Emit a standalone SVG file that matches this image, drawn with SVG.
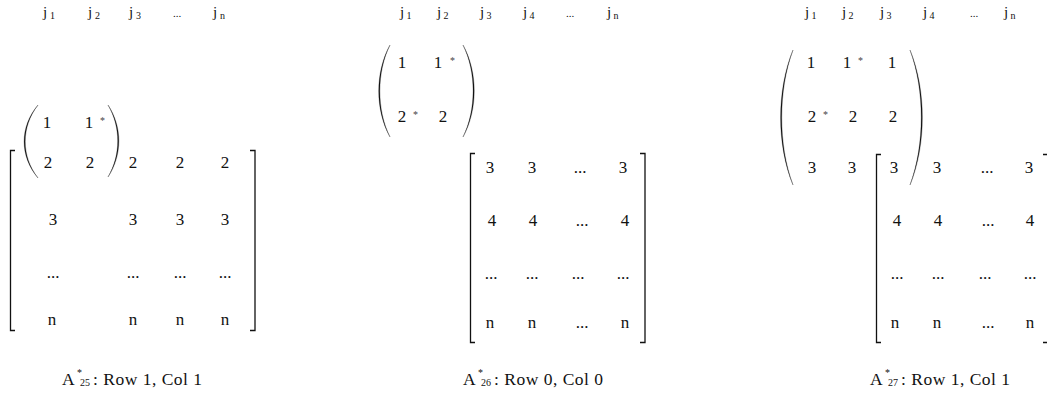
<svg xmlns="http://www.w3.org/2000/svg" width="1047" height="394" viewBox="0 0 1047 394" font-family="'Liberation Serif', Tinos, 'Times New Roman', Times, 'DejaVu Serif', serif">
<style>
text{font-family:'Liberation Serif',Tinos,'Times New Roman',Times,'DejaVu Serif',serif;fill:#111}
.e{font-size:17px;text-anchor:middle}
.h{font-size:15px}
.s{font-size:10px}
.st{font-size:10px;text-anchor:middle;fill:#444}
.hd{font-size:11px}
.c{font-size:17.5px;letter-spacing:0.5px}
.br{fill:none;stroke:#111;stroke-width:1.3}
.pa{fill:#111;stroke:#111;stroke-width:0.3}
</style>
<rect width="1047" height="394" fill="#fff"/>

<g id="panel1">
  <g id="p1-header">
    <text class="h" x="43" y="17">j</text><text class="s" x="50" y="19">1</text>
    <text class="h" x="88" y="17">j</text><text class="s" x="95" y="19">2</text>
    <text class="h" x="129" y="17">j</text><text class="s" x="136" y="19">3</text>
    <text class="hd" x="173" y="17">...</text>
    <text class="h" x="213" y="17">j</text><text class="s" x="220" y="19">n</text>
  </g>
  <g id="p1-sub">
    <path class="pa" d="M38,105 C19.5,127 19.5,156 38,178 C21,156 21,127 38,105 Z"/>
    <path class="pa" d="M108,105 C122.5,127 122.5,155 108,177 C121,155 121,127 108,105 Z"/>
    <text class="e" x="47" y="128">1</text>
    <text class="e" x="89" y="128">1</text>
    <text class="st" x="102.5" y="124">*</text>
  </g>
  <g id="p1-main">
    <path class="br" d="M15,150.5 H10.5 V330.5 H15"/>
    <path class="br" d="M250,150.5 H255 V330.5 H250"/>
    <text class="e" x="48" y="168">2</text><text class="e" x="90" y="168">2</text><text class="e" x="133" y="168">2</text><text class="e" x="180" y="168">2</text><text class="e" x="225" y="168">2</text>
    <text class="e" x="53" y="225">3</text><text class="e" x="133" y="225">3</text><text class="e" x="180" y="225">3</text><text class="e" x="225" y="225">3</text>
    <text class="e" x="53" y="278">...</text><text class="e" x="133" y="278">...</text><text class="e" x="180" y="278">...</text><text class="e" x="225" y="278">...</text>
    <text class="e" x="52" y="325">n</text><text class="e" x="133" y="325">n</text><text class="e" x="180" y="325">n</text><text class="e" x="225" y="325">n</text>
  </g>
  <g id="p1-caption">
    <text class="c" x="62" y="385">A</text><text class="s" x="77" y="376">*</text><text class="s" x="80" y="386">25</text><text class="c" x="93" y="385">: Row 1, Col 1</text>
  </g>
</g>

<g id="panel2">
  <g id="p2-header">
    <text class="h" x="400" y="17">j</text><text class="s" x="406.5" y="19">1</text>
    <text class="h" x="437" y="17">j</text><text class="s" x="443.5" y="19">2</text>
    <text class="h" x="480" y="17">j</text><text class="s" x="486.5" y="19">3</text>
    <text class="h" x="523" y="17">j</text><text class="s" x="529.5" y="19">4</text>
    <text class="hd" x="566" y="17">...</text>
    <text class="h" x="607" y="17">j</text><text class="s" x="613.5" y="19">n</text>
  </g>
  <g id="p2-sub">
    <path class="pa" d="M390,45 C375,72 375,110 390,137 C376.5,110 376.5,72 390,45 Z"/>
    <path class="pa" d="M463,45 C478,72 478,110 463,137 C476.5,110 476.5,72 463,45 Z"/>
    <text class="e" x="402" y="68">1</text><text class="e" x="438" y="68">1</text><text class="st" x="452.5" y="64">*</text>
    <text class="e" x="402" y="122">2</text><text class="st" x="415.5" y="118">*</text><text class="e" x="443" y="122">2</text>
  </g>
  <g id="p2-main">
    <path class="br" d="M475,153.5 H470.5 V342.5 H475"/>
    <path class="br" d="M640,153.5 H645 V342.5 H640"/>
    <text class="e" x="490" y="173">3</text><text class="e" x="532" y="173">3</text><text class="e" x="580" y="173">...</text><text class="e" x="623" y="173">3</text>
    <text class="e" x="492" y="226">4</text><text class="e" x="533" y="226">4</text><text class="e" x="582" y="226">...</text><text class="e" x="625" y="226">4</text>
    <text class="e" x="491" y="279">...</text><text class="e" x="532" y="279">...</text><text class="e" x="578" y="279">...</text><text class="e" x="623" y="279">...</text>
    <text class="e" x="490" y="328">n</text><text class="e" x="532" y="328">n</text><text class="e" x="582" y="328">...</text><text class="e" x="625" y="328">n</text>
  </g>
  <g id="p2-caption">
    <text class="c" x="463" y="385">A</text><text class="s" x="478" y="376">*</text><text class="s" x="481" y="386">26</text><text class="c" x="494" y="385">: Row 0, Col 0</text>
  </g>
</g>

<g id="panel3">
  <g id="p3-header">
    <text class="h" x="805" y="17">j</text><text class="s" x="811.5" y="19">1</text>
    <text class="h" x="842" y="17">j</text><text class="s" x="848.5" y="19">2</text>
    <text class="h" x="880" y="17">j</text><text class="s" x="886.5" y="19">3</text>
    <text class="h" x="923" y="17">j</text><text class="s" x="929.5" y="19">4</text>
    <text class="hd" x="970" y="17">...</text>
    <text class="h" x="1004" y="17">j</text><text class="s" x="1010.5" y="19">n</text>
  </g>
  <g id="p3-sub">
    <path class="pa" d="M793,50 C776.5,90 776.5,145 793,185 C778,145 778,90 793,50 Z"/>
    <path class="pa" d="M910,50 C926.5,90 926.5,145 910,185 C925,145 925,90 910,50 Z"/>
    <text class="e" x="811" y="68">1</text><text class="e" x="847" y="68">1</text><text class="st" x="860.5" y="64">*</text><text class="e" x="892" y="68">1</text>
    <text class="e" x="812" y="122">2</text><text class="st" x="825.5" y="118">*</text><text class="e" x="853" y="122">2</text><text class="e" x="893" y="122">2</text>
    <text class="e" x="812" y="173">3</text><text class="e" x="852" y="173">3</text>
  </g>
  <g id="p3-main">
    <path class="br" d="M881,154.5 H876.5 V342.5 H881"/>
    <path class="br" d="M1043,154.5 H1048 V342.5 H1043"/>
    <text class="e" x="894" y="173">3</text><text class="e" x="937" y="173">3</text><text class="e" x="987" y="173">...</text><text class="e" x="1029" y="173">3</text>
    <text class="e" x="897" y="226">4</text><text class="e" x="938" y="226">4</text><text class="e" x="988" y="226">...</text><text class="e" x="1030" y="226">4</text>
    <text class="e" x="897" y="279">...</text><text class="e" x="938" y="279">...</text><text class="e" x="985" y="279">...</text><text class="e" x="1030" y="279">...</text>
    <text class="e" x="895" y="328">n</text><text class="e" x="937" y="328">n</text><text class="e" x="988" y="328">...</text><text class="e" x="1030" y="328">n</text>
  </g>
  <g id="p3-caption">
    <text class="c" x="870" y="385">A</text><text class="s" x="885" y="376">*</text><text class="s" x="888" y="386">27</text><text class="c" x="901" y="385">: Row 1, Col 1</text>
  </g>
</g>
</svg>
